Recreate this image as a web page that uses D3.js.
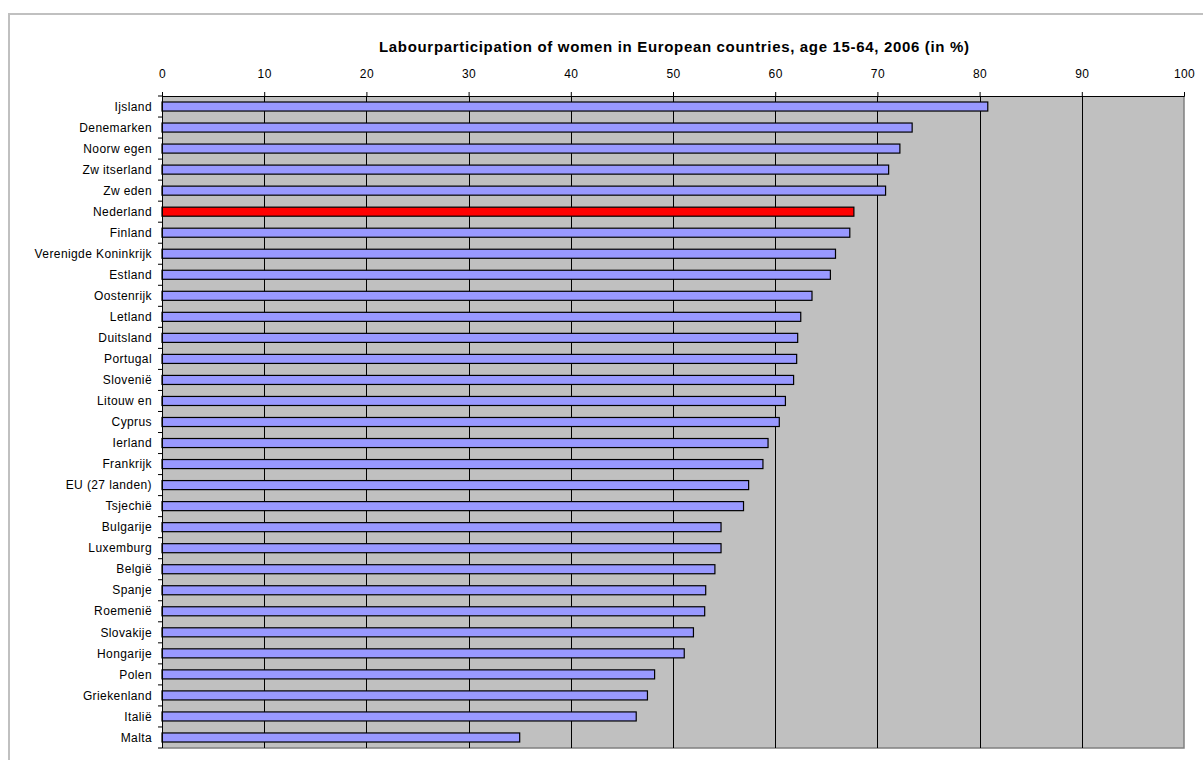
<!DOCTYPE html>
<html>
<head>
<meta charset="utf-8">
<script src="https://cdn.jsdelivr.net/npm/d3@7"></script>
<style>
  body { margin: 0; background: #fff; }
  svg { display: block; font-family: "Liberation Sans", Arial, sans-serif; }
</style>
</head>
<body>
<div id="chart"></div>
<script>
const title = "Labourparticipation of women in European countries, age 15-64, 2006 (in %)";

const countries = [
  "Ijsland", "Denemarken", "Noorw egen", "Zw itserland", "Zw eden", "Nederland",
  "Finland", "Verenigde Koninkrijk", "Estland", "Oostenrijk", "Letland", "Duitsland",
  "Portugal", "Slovenië", "Litouw en", "Cyprus", "Ierland", "Frankrijk",
  "EU (27 landen)", "Tsjechië", "Bulgarije", "Luxemburg", "België", "Spanje",
  "Roemenië", "Slovakije", "Hongarije", "Polen", "Griekenland", "Italië", "Malta"
];
const values = [
  80.8, 73.4, 72.2, 71.1, 70.8, 67.7,
  67.3, 65.9, 65.4, 63.6, 62.5, 62.2,
  62.1, 61.8, 61.0, 60.4, 59.3, 58.8,
  57.4, 56.9, 54.7, 54.7, 54.1, 53.2,
  53.1, 52.0, 51.1, 48.2, 47.5, 46.4, 35.0
];
const highlight = "Nederland";
const xTicks = [0, 10, 20, 30, 40, 50, 60, 70, 80, 90, 100];

const data = countries.map((c, i) => ({ country: c, value: values[i] }));

const width = 1203, height = 760;
const margin = { top: 96, right: 18, bottom: 12, left: 162 };
const innerW = 1184 - margin.left;
const innerH = 748 - margin.top;

const svg = d3.select("#chart").append("svg")
  .attr("width", width)
  .attr("height", height);

// outer chart border
svg.append("rect")
  .attr("x", 9).attr("y", 14)
  .attr("width", width + 20).attr("height", height + 20)
  .attr("fill", "#fff")
  .attr("stroke", "#c0c0c0")
  .attr("stroke-width", 2);

svg.append("text")
  .attr("x", 674).attr("y", 52)
  .attr("text-anchor", "middle")
  .attr("font-size", 15)
  .attr("font-weight", "bold")
  .attr("fill", "#000")
  .attr("textLength", 590)
  .attr("lengthAdjust", "spacing")
  .text(title);

const g = svg.append("g")
  .attr("transform", `translate(${margin.left},${margin.top})`);

const x = d3.scaleLinear().domain([0, 100]).range([0, innerW]);
const y = d3.scaleBand()
  .domain(countries)
  .range([0, innerH])
  .paddingInner(0.57)
  .paddingOuter(0.285);

// plot area
g.append("rect")
  .attr("width", innerW).attr("height", innerH)
  .attr("fill", "#c0c0c0");
g.append("path")
  .attr("d", `M${innerW},0V${innerH}H0`)
  .attr("fill", "none")
  .attr("stroke", "#808080")
  .attr("stroke-width", 1.5);

// grid lines
g.selectAll(".grid")
  .data(xTicks.filter(t => t > 0 && t < 100))
  .join("line")
  .attr("x1", d => Math.round(x(d)) + 0.5)
  .attr("x2", d => Math.round(x(d)) + 0.5)
  .attr("y1", 0).attr("y2", innerH)
  .attr("stroke", "#000");

// bars
g.selectAll(".bar")
  .data(data)
  .join("rect")
  .attr("x", x(0))
  .attr("y", d => y(d.country))
  .attr("width", d => x(d.value) - x(0))
  .attr("height", y.bandwidth())
  .attr("fill", d => d.country === highlight ? "#ff0000" : "#9999ff")
  .attr("stroke", "#000")
  .attr("stroke-width", 1.2);

// top axis
const xAxis = g.append("g")
  .call(d3.axisTop(x).tickValues(xTicks).tickSize(4).tickPadding(14))
  .attr("font-family", null)
  .attr("font-size", null);
xAxis.select(".domain").attr("stroke", "#000");
xAxis.selectAll("text")
  .attr("font-size", 12)
  .attr("letter-spacing", 0.4)
  .attr("fill", "#000");

// left axis: ticks at category boundaries
const yAxis = g.append("g");
yAxis.append("line")
  .attr("x1", 0.5).attr("x2", 0.5)
  .attr("y1", 0).attr("y2", innerH)
  .attr("stroke", "#000");
yAxis.selectAll(".ytick")
  .data(d3.range(countries.length + 1))
  .join("line")
  .attr("x1", -4).attr("x2", 0)
  .attr("y1", i => i * y.step())
  .attr("y2", i => i * y.step())
  .attr("stroke", "#000");
yAxis.selectAll(".ylab")
  .data(countries)
  .join("text")
  .attr("x", -10)
  .attr("y", d => y(d) + y.bandwidth() / 2)
  .attr("dy", "0.35em")
  .attr("text-anchor", "end")
  .attr("font-size", 12)
  .attr("letter-spacing", 0.4)
  .attr("fill", "#000")
  .text(d => d);
</script>
</body>
</html>
